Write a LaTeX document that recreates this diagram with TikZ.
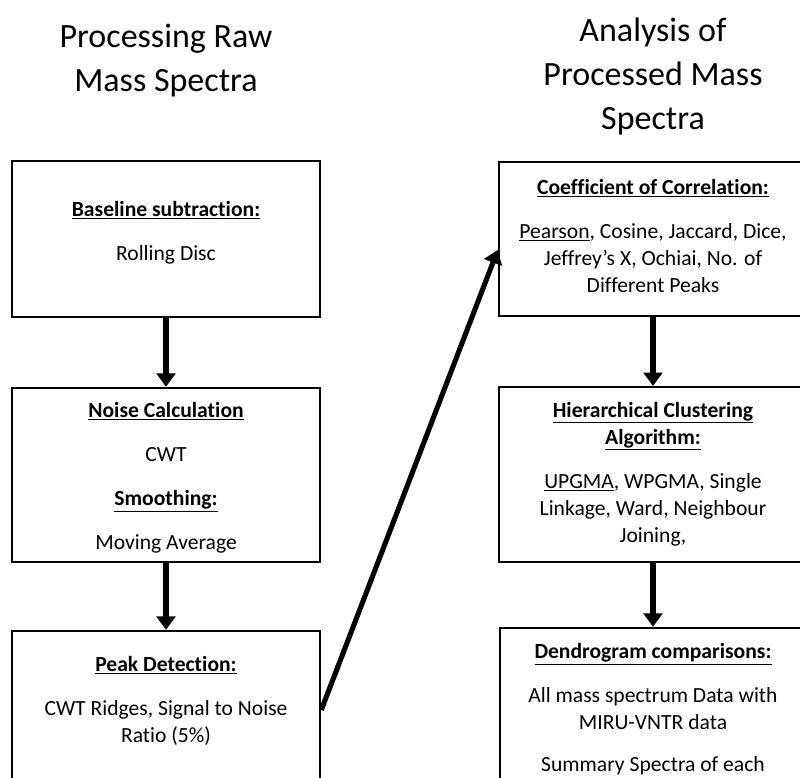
\documentclass[tikz,border=0pt]{standalone}
\usepackage{fontspec}
\setmainfont{Carlito}[Ligatures=NoCommon]
\usetikzlibrary{arrows.meta,positioning}
\newcommand\uln[1]{$\underline{\hbox{#1}}$}

\begin{document}
\begin{tikzpicture}[x=0.75pt, y=-0.75pt,
    stage/.style={draw, line width=1.9pt, minimum width=231pt, inner sep=0pt},
    info/.style={align=center, inner sep=0pt, font=\fontsize{16.2}{20.25}\selectfont},
    head/.style={align=center, inner sep=0pt, font=\fontsize{25.5}{33}\selectfont},
    flow/.style={line width=3.8pt, -{Triangle[width=14pt,length=10pt]}}]
  \useasboundingbox (0,0) rectangle (800,778);
  \clip (0,0) rectangle (800,778);

  \node[head] (rawtitle) at (166,61) {Processing Raw\\Mass Spectra};
  \node[head] (anatitle) at (653,76) {Analysis of\\Processed Mass\\Spectra};

  % left column
  \node[stage, minimum height=117pt] (baseline) at (166,239) {};
  \node[stage, minimum height=130.5pt] (noise) at (166,475) {};
  \node[stage, minimum height=118.5pt] (peak) at (166,710) {};

  \node[info] (baselinetxt) at (166,233) {\textbf{\uln{Baseline subtraction:}}\\[12.75pt]Rolling Disc};
  \node[info] (noisetxt) at (166,478) {\textbf{\uln{Noise Calculation}}\\[12.75pt]CWT\\[12.75pt]\textbf{\uln{Smoothing:}}\\[12.75pt]Moving Average};
  \node[info] (peaktxt) at (166,701) {\textbf{\uln{Peak Detection:}}\\[12.75pt]CWT Ridges, Signal to Noise\\Ratio (5\%)};

  % right column
  \node[stage, minimum height=115.5pt] (corr) at (653,239) {};
  \node[stage, minimum height=131pt] (cluster) at (653,474.5) {};
  \node[stage, minimum height=150pt] (dendro) at (654,728) {};

  \node[info] (corrtxt) at (653,235.5) {\textbf{\uln{Coefficient of Correlation:}}\\[12.75pt]\uln{Pearson}, Cosine, Jaccard, Dice,\\Jeffrey’s X, Ochiai, No. of\\Different Peaks};
  \node[info] (clustertxt) at (653,474) {\textbf{\uln{Hierarchical Clustering}}\\\textbf{\uln{Algorithm:}}\\[12.75pt]\uln{UPGMA}, WPGMA, Single\\Linkage, Ward, Neighbour\\Joining,};
  \node[info] (dendrotxt) at (653,709.5) {\textbf{\uln{Dendrogram comparisons:}}\\[12.75pt]All mass spectrum Data with\\MIRU-VNTR data\\[11.25pt]Summary Spectra of each};

  \draw[flow] (baseline) -- (noise);
  \draw[flow] (noise) -- (peak);
  \draw[flow] (corr) -- (cluster);
  \draw[flow] (cluster.south) -- (cluster.south |- dendro.north);
  \draw[flow] (peak.east) -- ([yshift=-8.25pt]corr.west);
\end{tikzpicture}
\end{document}
